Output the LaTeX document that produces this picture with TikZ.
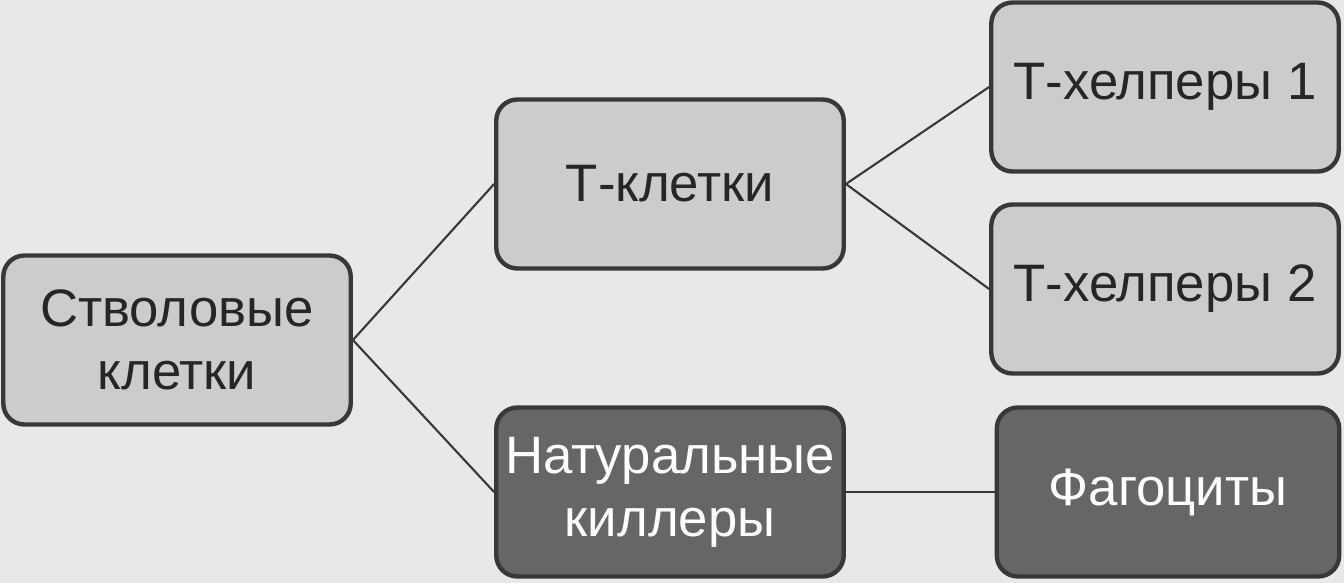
\documentclass[tikz,border=0pt]{standalone}
\usepackage{fontspec}
\setmainfont{Liberation Sans}
\definecolor{bg}{gray}{0.91}
\definecolor{lite}{gray}{0.80}
\definecolor{dark}{gray}{0.40}
\definecolor{edge}{gray}{0.22}
\begin{document}
\begin{tikzpicture}[x=0.02cm,y=-0.02cm,
  box/.style={draw=edge,line width=2.5pt,rounded corners=12pt,fill=lite,
    minimum width=6.95cm,minimum height=3.38cm,align=center,font=\fontsize{30}{36}\selectfont,text=black!85},
  darkbox/.style={box,fill=dark,text=white},
  link/.style={draw=edge,line width=1.2pt}]
\fill[bg] (0,0) rectangle (1344,583);
\useasboundingbox (0,0) rectangle (1344,583);
\node[box] (stem) at (177,340) {Стволовые\\клетки};
\node[box] (tc) at (670,184) {Т-клетки};
\node[box] (th1) at (1165,87) {Т-хелперы 1};
\node[box] (th2) at (1165,289) {Т-хелперы 2};
\node[darkbox] (nk) at (670,492) {Натуральные\\киллеры};
\node[darkbox,minimum width=6.85cm] (ph) at (1168,492) {Фагоциты};
\draw[link] (stem.east) -- (tc.west);
\draw[link] (stem.east) -- (nk.west);
\draw[link] (tc.east) -- (th1.west);
\draw[link] (tc.east) -- (th2.west);
\draw[link] (nk.east) -- (ph.west);
\end{tikzpicture}
\end{document}
